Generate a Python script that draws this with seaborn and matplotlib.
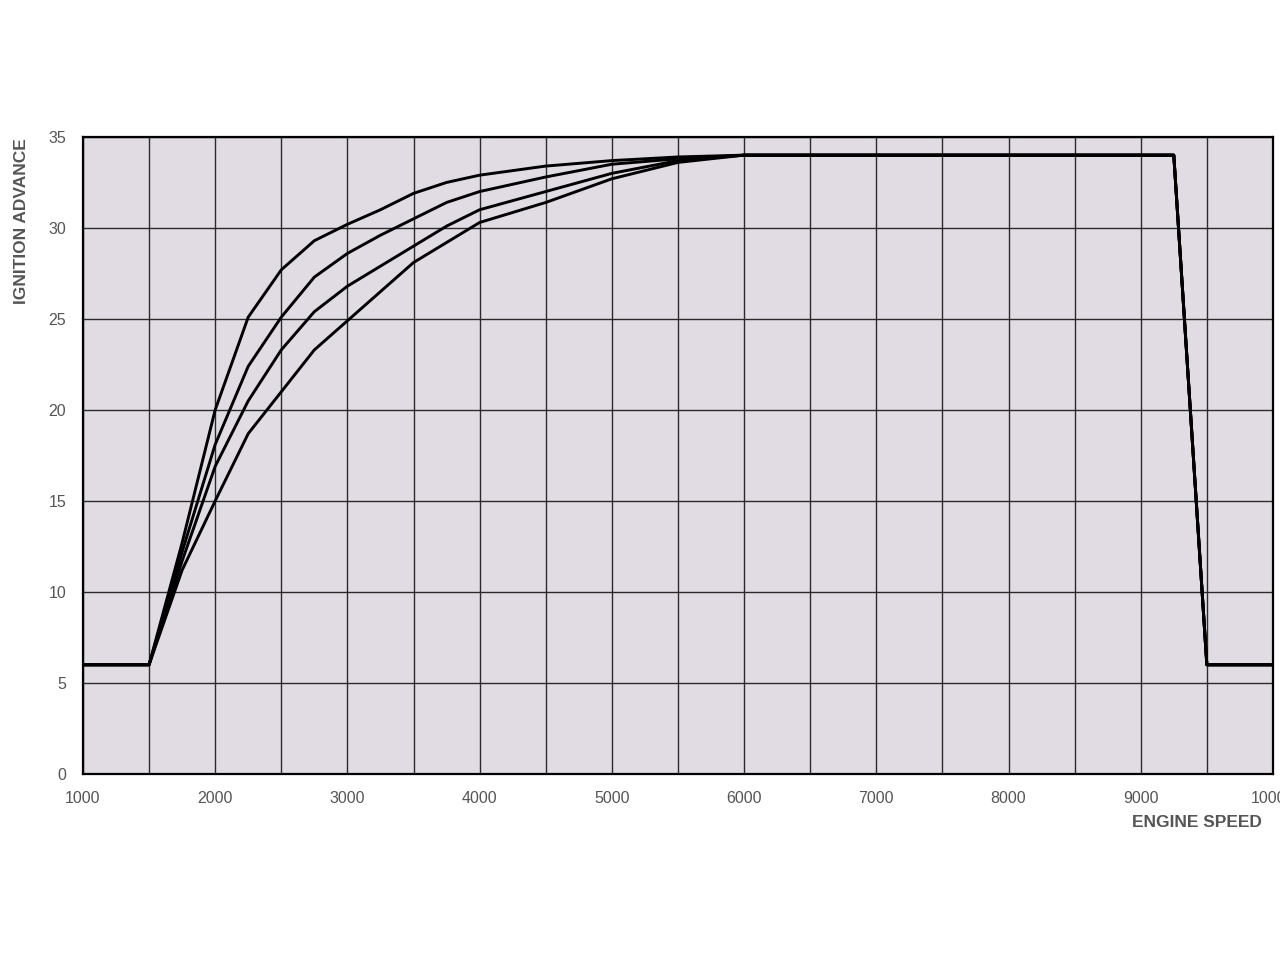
import matplotlib
matplotlib.use("Agg")
import matplotlib.pyplot as plt
import pandas as pd
import seaborn as sns

# engine speed (rpm) and the four advance curves (degrees)
rpm = [1000, 1500, 1750, 2000, 2250, 2500, 2750, 3000, 3250, 3500, 3750,
       4000, 4500, 5000, 5500, 6000, 6250, 9250, 9500, 10000]
curve_a = [6, 6, 12.7, 20.0, 25.1, 27.7, 29.3, 30.2, 31.0, 31.9, 32.5,
           32.9, 33.4, 33.7, 33.9, 34, 34, 34, 6, 6]
curve_b = [6, 6, 12.2, 18.1, 22.4, 25.1, 27.3, 28.6, 29.6, 30.5, 31.4,
           32.0, 32.8, 33.5, 33.8, 34, 34, 34, 6, 6]
curve_c = [6, 6, 11.7, 16.9, 20.5, 23.3, 25.4, 26.8, 27.9, 29.0, 30.1,
           31.0, 32.0, 33.0, 33.7, 34, 34, 34, 6, 6]
curve_d = [6, 6, 11.2, 15.0, 18.7, 21.0, 23.3, 24.9, 26.5, 28.1, 29.2,
           30.3, 31.4, 32.7, 33.6, 34, 34, 34, 6, 6]

curves = {"A": curve_a, "B": curve_b, "C": curve_c, "D": curve_d}
df = pd.concat(
    [pd.DataFrame({"rpm": rpm, "advance": v, "curve": k}) for k, v in curves.items()],
    ignore_index=True,
)

sns.set_style("white")
plt.rcParams["font.family"] = ["Liberation Sans", "DejaVu Sans"]

fig = plt.figure(figsize=(12.8, 9.6), dpi=100)
ax = fig.add_axes([0.0648, 0.19375, 0.9297, 0.6636])
ax.set_facecolor("#e1dce3")

sns.lineplot(data=df, x="rpm", y="advance", hue="curve",
             palette=["black"] * 4, linewidth=2.1, legend=False,
             sort=False, ax=ax, zorder=3)

ax.set_xlim(1000, 10000)
ax.set_ylim(0, 35)
ax.set_xticks(range(1000, 10001, 1000))
ax.set_xticks(range(1500, 10000, 1000), minor=True)
ax.set_yticks(range(0, 36, 5))
ax.grid(True, which="both", color="#2a2a2a", linewidth=1.0, zorder=1)
ax.set_axisbelow(True)

for s in ax.spines.values():
    s.set_color("black")
    s.set_linewidth(1.6)

ax.tick_params(axis="both", which="major", direction="out", length=4,
               width=1, color="black", labelsize=11.5, labelcolor="#555555", pad=8)
ax.tick_params(axis="x", which="minor", length=0)
ax.set_xlabel("")
ax.set_ylabel("")

label_font = dict(family=["Liberation Sans Narrow", "Liberation Sans", "DejaVu Sans"],
                  weight="bold", color="#555555", fontsize=12.5)
fig.text(0.986, 0.143, "ENGINE SPEED", ha="right", va="center", **label_font)
fig.text(0.017, 0.856, "IGNITION ADVANCE", rotation=90, ha="center", va="top",
         **label_font)

fig.savefig("out.png", dpi=100)
